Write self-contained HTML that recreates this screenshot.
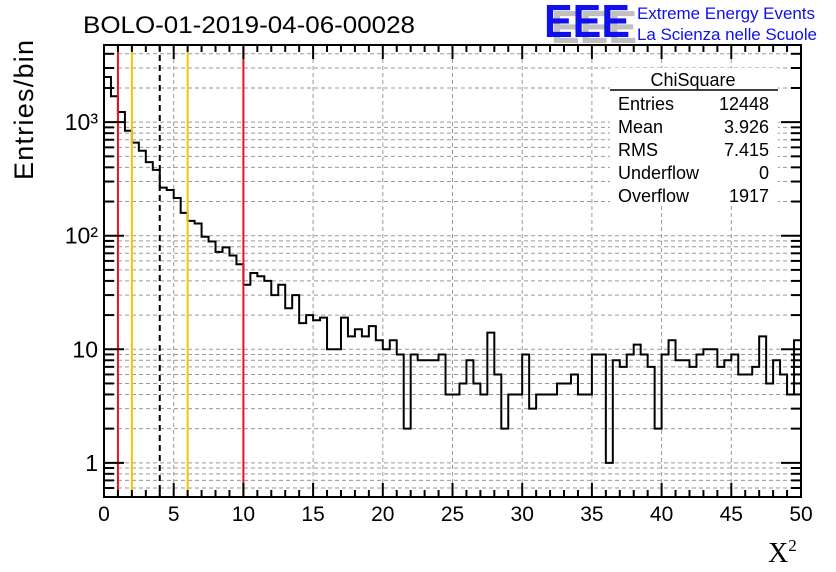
<!DOCTYPE html>
<html><head><meta charset="utf-8"><style>
html,body{margin:0;padding:0;background:#fff;}
svg{display:block;font-family:"Liberation Sans",sans-serif;}
</style></head><body>
<svg id="c" width="836" height="572" viewBox="0 0 836 572">
<rect x="0" y="0" width="836" height="572" fill="#fff"/>
<g id="grid"></g>
<g id="marks"></g>
<g id="stats">
<rect x="610" y="68" width="168" height="137" fill="#fff"/>
<text x="693" y="86" font-size="18" text-anchor="middle">ChiSquare</text>
<line x1="610" y1="90" x2="778" y2="90" stroke="#000" stroke-width="1.5"/>
<g font-size="18">
<text x="618" y="110">Entries</text><text x="769" y="110" text-anchor="end">12448</text>
<text x="618" y="133">Mean</text><text x="769" y="133" text-anchor="end">3.926</text>
<text x="618" y="156">RMS</text><text x="769" y="156" text-anchor="end">7.415</text>
<text x="618" y="179">Underflow</text><text x="769" y="179" text-anchor="end">0</text>
<text x="618" y="202">Overflow</text><text x="769" y="202" text-anchor="end">1917</text>
</g></g>
<g id="axes"></g>
<text x="83" y="33" font-size="24" textLength="332" lengthAdjust="spacingAndGlyphs">BOLO-01-2019-04-06-00028</text>
<g>
<text x="551" y="43" font-size="46" font-weight="bold" fill="#c0c0c0" textLength="86" lengthAdjust="spacingAndGlyphs">EEE</text>
<text x="544" y="37" font-size="46" font-weight="bold" fill="#1010ee" textLength="86" lengthAdjust="spacingAndGlyphs">EEE</text>
<text x="637" y="19" font-size="17" fill="#1010ee" textLength="178">Extreme Energy Events</text>
<text x="637" y="40" font-size="17" fill="#1010ee" textLength="180">La Scienza nelle Scuole</text>
</g>
<text transform="translate(33,110) rotate(-90)" font-size="27" text-anchor="middle" textLength="140">Entries/bin</text>
<text x="768" y="562" font-size="28" font-family="'Liberation Serif',serif">X<tspan font-size="17" dy="-11">2</tspan></text>
</svg>
<script>
const counts = [2500,1690,1230,840,660,560,445,380,265,253,
215,159,135,128,98,89,72,79,67,56,
37,47,44,40,30,37,23,30,17,20,
18,19,10,10,19,13,15,13,16,12,
10,12,9,2,9,8,8,8,9,4,
4,5,8,5,4,14,6,2,4,4,
9,3,4,4,4,5,5,6,4,4,
9,9,1,8,7,9,11,9,7,2,
9,12,8,8,7,9,10,10,7,8,
9,6,6,7,13,5,8,6,4,12];
const xTicks = [0,5,10,15,20,25,30,35,40,45,50];
const yDecades = [1,10,100,1000];
const yLabels = ["1","10","10²","10³"];
const redLines = [1,10];
const orangeLines = [2,6];
const meanLine = [4];
const binWidth = 0.5;

const NS="http://www.w3.org/2000/svg";
const L=104,R=801,T=45,B=497;
const xmin=0,xmax=50,ymin=Math.log10(0.5),ymax=(463-45)/113.6;
const X=v=>L+(v-xmin)/(xmax-xmin)*(R-L);
const Y=v=>{const l=Math.log10(v);return B-(l-ymin)/(ymax-ymin)*(B-T);};
function mk(tag,attrs,parent){const e=document.createElementNS(NS,tag);for(const k in attrs)e.setAttribute(k,attrs[k]);parent.appendChild(e);return e;}
const grid=document.getElementById('grid'),marks=document.getElementById('marks'),axes=document.getElementById('axes');
xTicks.forEach(t=>{if(t>xmin&&t<xmax){const e=mk('line',{x1:X(t),x2:X(t),y1:T,y2:B,stroke:'#999','stroke-width':1,'stroke-dasharray':'4,3'},grid);

}});
[0.1,1,10,100,1000].forEach(d=>{for(let m=1;m<10;m++){const v=d*m;if(v<=0.5||Y(v)<T)continue;const y=Y(v);
const e=mk('line',{x1:L,x2:R,y1:y,y2:y,stroke:'#999','stroke-width':1,'stroke-dasharray':'4,3'},grid);

}});
let d='M'+X(0)+','+B;
counts.forEach((c,i)=>{const y=Y(c);d+=' L'+X(i*binWidth)+','+y+' L'+X((i+1)*binWidth)+','+y;});
d+=' L'+X(counts.length*binWidth)+','+B;
const hp=mk('path',{d:d,fill:'none',stroke:'#000','stroke-width':2},marks);


redLines.forEach(v=>{const e=mk('line',{x1:X(v),x2:X(v),y1:T,y2:B,stroke:'#e8141c','stroke-width':2},marks);

});
orangeLines.forEach(v=>{const e=mk('line',{x1:X(v),x2:X(v),y1:T,y2:B,stroke:'#f5c400','stroke-width':2},marks);

});
meanLine.forEach(v=>{const e=mk('line',{x1:X(v),x2:X(v),y1:T,y2:B,stroke:'#000','stroke-width':2,'stroke-dasharray':'6,4'},marks);

});
const fr=mk('rect',{x:L,y:T,width:R-L,height:B-T,fill:'none',stroke:'#000','stroke-width':2},axes);


for(let v=0;v<=50;v+=1){const maj=v%5===0;const len=maj?14:7;
mk('line',{x1:X(v),x2:X(v),y1:B,y2:B-len,stroke:'#000','stroke-width':2},axes);
mk('line',{x1:X(v),x2:X(v),y1:T,y2:T+len,stroke:'#000','stroke-width':2},axes);}
xTicks.forEach(t=>{const e=mk('text',{x:X(t),y:521,'font-size':21,'text-anchor':'middle'},axes);e.textContent=t;

});
[0.1,1,10,100,1000].forEach(d=>{for(let m=1;m<10;m++){const v=d*m;if(v<0.5||Y(v)<T)continue;const len=m===1?20:10;
mk('line',{x1:L,x2:L+len,y1:Y(v),y2:Y(v),stroke:'#000','stroke-width':2},axes);
mk('line',{x1:R,x2:R-len,y1:Y(v),y2:Y(v),stroke:'#000','stroke-width':2},axes);}});
yDecades.forEach((v,i)=>{const e=mk('text',{x:98,y:Y(v)+8,'font-size':23,'text-anchor':'end'},axes);e.textContent=yLabels[i];

});
</script>
</body></html>
